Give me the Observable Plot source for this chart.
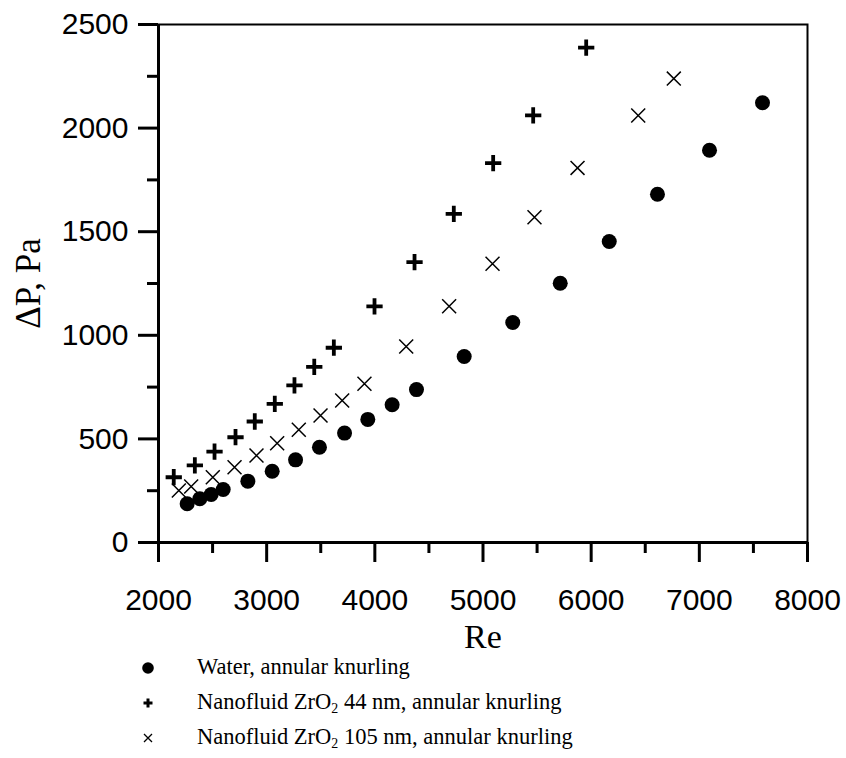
<!DOCTYPE html>
<html><head><meta charset="utf-8">
<script src="https://cdn.jsdelivr.net/npm/d3@7"></script>
<script src="https://cdn.jsdelivr.net/npm/@observablehq/plot@0.6"></script>
<style>
body{margin:0;background:#fff;width:846px;height:758px;overflow:hidden;}
#chart svg{display:block;}
#legend{position:relative;margin-top:-10px;font-family:"Liberation Serif","Times New Roman",serif;font-size:22.5px;color:#000;}
.row{position:relative;height:35px;}
.row svg{position:absolute;left:138px;top:7.5px;}
.row span{position:absolute;left:197px;top:50%;transform:translateY(-52%);white-space:nowrap;line-height:1;}
.row sub{font-size:0.62em;vertical-align:-0.3em;line-height:0;}
</style></head><body>
<div id="chart"></div><div id="legend"></div>
<script>
// Water, annular knurling
const waterRe = [2265,2382,2487,2598,2826,3051,3267,3488,3720,3935,4160,4385,4826,5275,5714,6167,6613,7094,7584];
const waterDP = [187,211,232,256,296,344,399,460,528,594,665,738,898,1062,1251,1453,1681,1893,2122];
// Nanofluid ZrO2 44 nm
const nf44Re = [2141,2336,2518,2712,2890,3075,3257,3440,3621,3997,4367,4730,5094,5464,5954];
const nf44DP = [315,372,439,508,584,669,758,848,940,1140,1353,1586,1831,2061,2388];
// Nanofluid ZrO2 105 nm
const nf105Re = [2188,2302,2502,2703,2906,3097,3297,3498,3698,3904,4290,4687,5088,5476,5874,6435,6764];
const nf105DP = [251,270,315,363,420,479,544,613,685,766,946,1140,1345,1570,1808,2061,2239];

const xTicks = [2000,3000,4000,5000,6000,7000,8000];
const xMinor = [2500,3500,4500,5500,6500,7500];
const yTicks = [0,500,1000,1500,2000,2500];
const yMinor = [250,750,1250,1750,2250];
const xLabel = "Re";
const yLabel = "ΔP, Pa";
const legendLabels = [
  "Water, annular knurling",
  "Nanofluid ZrO<sub>2</sub> 44 nm, annular knurling",
  "Nanofluid ZrO<sub>2</sub> 105 nm, annular knurling"
];
const legendSymbols = ["circle","plus","times"];

const toRows = (xs, ys) => xs.map((x, i) => ({re: x, dp: ys[i]}));
const water = toRows(waterRe, waterDP);
const nf44 = toRows(nf44Re, nf44DP);
const nf105 = toRows(nf105Re, nf105DP);

const serif = "'Liberation Serif','Times New Roman',serif";

const chart = Plot.plot({
  width: 846,
  height: 660,
  marginLeft: 158,
  marginRight: 39,
  marginTop: 24,
  marginBottom: 118,
  style: {fontFamily: "'Liberation Sans', Arial, sans-serif", color: "#000", background: "#fff"},
  x: {domain: [2000, 8000]},
  y: {domain: [0, 2500]},
  marks: [
    Plot.frame({stroke: "#000", strokeWidth: 2}),
    Plot.ruleY([0], {stroke: "#000", strokeWidth: 3}),
    Plot.ruleX([2000], {stroke: "#000", strokeWidth: 3}),
    Plot.axisX({ticks: xTicks, tickSize: 20, tickPadding: 26, fontSize: 30, strokeWidth: 3, label: null, tickFormat: d => String(d)}),
    Plot.axisX({ticks: xMinor, tickSize: 11, strokeWidth: 3, text: null, label: null}),
    Plot.axisY({ticks: yTicks, tickSize: 20, tickPadding: 10, fontSize: 30, strokeWidth: 3, label: null, tickFormat: d => String(d)}),
    Plot.axisY({ticks: yMinor, tickSize: 11, strokeWidth: 3, text: null, label: null}),
    Plot.text([xLabel], {frameAnchor: "bottom", textAnchor: "middle", lineAnchor: "middle", dy: 95, fontSize: 34, fontFamily: serif, fill: "#000"}),
    Plot.text([yLabel], {frameAnchor: "left", textAnchor: "middle", lineAnchor: "middle", dx: -130, rotate: -90, fontSize: 35, fontFamily: serif, fill: "#000"}),
    Plot.dot(water, {x: "re", y: "dp", r: 7.5, fill: "#000", stroke: "none", symbol: "circle"}),
    Plot.dot(nf44, {x: "re", y: "dp", r: 5.3, stroke: "#000", strokeWidth: 3.8, symbol: "plus"}),
    Plot.dot(nf105, {x: "re", y: "dp", r: 6.4, stroke: "#000", strokeWidth: 1.5, symbol: "times"})
  ]
});
document.getElementById("chart").appendChild(chart);

const legend = document.getElementById("legend");
const symbolSvg = {
  circle: '<circle cx="10" cy="10" r="5.8" fill="#000"/>',
  plus: '<path d="M5.5,10H14.5M10,5.5V14.5" stroke="#000" stroke-width="3"/>',
  times: '<path d="M6,6L14,14M14,6L6,14" stroke="#000" stroke-width="1.3"/>'
};
legendLabels.forEach((lab, i) => {
  const row = document.createElement("div");
  row.className = "row";
  row.innerHTML = `<svg width="20" height="20">${symbolSvg[legendSymbols[i]]}</svg><span>${lab}</span>`;
  legend.appendChild(row);
});
</script>
</body></html>
